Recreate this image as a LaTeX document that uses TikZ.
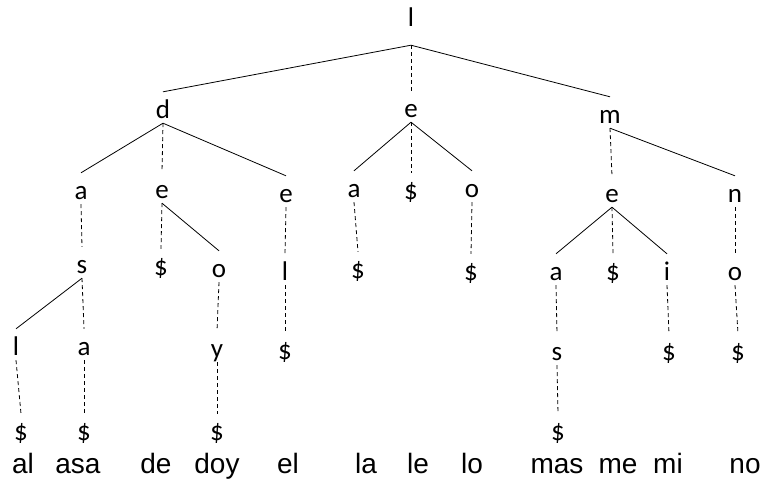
\documentclass[tikz,border=0pt]{standalone}
\usepackage{fontspec}
\setmainfont{Carlito}
\newfontfamily\wordfont{Liberation Sans}
\usepackage{tikz}
\usetikzlibrary{positioning}
\newcommand{\treefont}{\fontsize{27}{31}\selectfont}
\newcommand{\wfont}{\wordfont\fontsize{28}{32}\selectfont}
\tikzset{
  ch/.style={font=\treefont, anchor=base, text height=21pt, text depth=0pt,
    inner xsep=1pt, inner ysep=5pt},
  wd/.style={font=\wfont, anchor=base, inner sep=0pt},
  lohi/.style={line width=0.8pt},
  eq/.style={line width=0.8pt, dash pattern=on 4pt off 3pt}
}

\begin{document}
\begin{tikzpicture}[x=1pt,y=-1pt]
    \useasboundingbox (0,0) rectangle (760,479);

    % =====================
    % Root and first level
    % =====================
    \node[ch, text depth=14pt] (nl) at (411,26) {l};
    \node[ch] (nd)  at (163,118) {d};
    \node[ch] (nle) at (411,117) {e};
    \node[ch] (nm)  at (610,123) {m};

    % =====================
    % Second level
    % =====================
    \node[ch] (na)    at (81,199)  {a};
    \node[ch] (nde)   at (162,198) {e};
    \node[ch] (ne)    at (286,202) {e};
    \node[ch] (nla)   at (354,197) {a};
    \node[ch] (nleS)  at (411,199) {\$};
    \node[ch] (nlo)   at (472,197) {o};
    \node[ch] (nme)   at (612,202) {e};
    \node[ch] (nn)    at (735,202) {n};

    % =====================
    % Third level
    % =====================
    \node[ch] (nas)   at (82,273)  {s};
    \node[ch] (ndeS)  at (161,275) {\$};
    \node[ch] (ndo)   at (219,277) {o};
    \node[ch] (nel)   at (285,280) {l};
    \node[ch] (nlaS)  at (358,278) {\$};
    \node[ch] (nloS)  at (471,280) {\$};
    \node[ch] (nma)   at (556,280) {a};
    \node[ch] (nmeS)  at (613,280) {\$};
    \node[ch] (nmi)   at (667,280) {i};
    \node[ch] (nno)   at (735,280) {o};

    % =====================
    % Fourth level
    % =====================
    \node[ch] (nal)   at (16,355)  {l};
    \node[ch] (nasa)  at (84,355)  {a};
    \node[ch] (ndoy)  at (217,357) {y};
    \node[ch] (nelS)  at (285,359) {\$};
    \node[ch] (nmas)  at (557,360) {s};
    \node[ch] (nmiS)  at (669,360) {\$};
    \node[ch] (nnoS)  at (738,360) {\$};

    % =====================
    % Fifth level
    % =====================
    \node[ch] (nalS)  at (21,440)  {\$};
    \node[ch] (nasaS) at (84,440)  {\$};
    \node[ch] (ndoyS) at (217,440) {\$};
    \node[ch] (nmasS) at (558,440) {\$};

    % =====================
    % Words
    % =====================
    \node[wd] (wal)   at (23,473)  {al};
    \node[wd] (wasa)  at (78,473)  {asa};
    \node[wd] (wde)   at (156,473) {de};
    \node[wd] (wdoy)  at (217,473) {doy};
    \node[wd] (wel)   at (288,473) {el};
    \node[wd] (wla)   at (366,473) {la};
    \node[wd] (wle)   at (418,473) {le};
    \node[wd] (wlo)   at (472,473) {lo};
    \node[wd] (wmas)  at (557,473) {mas};
    \node[wd] (wme)   at (618,473) {me};
    \node[wd] (wmi)   at (668,473) {mi};
    \node[wd] (wno)   at (745,473) {no};

    % =====================
    % Low and high children
    % =====================
    \draw[lohi] (nl.south) -- (nd.north);
    \draw[lohi] (nl.south) -- (nm.north);
    \draw[lohi] (nd.south) -- (na.north);
    \draw[lohi] (nd.south) -- (ne.north);
    \draw[lohi] (nde.south) -- (ndo.north);
    \draw[lohi] (nle.south) -- (nla.north);
    \draw[lohi] (nle.south) -- (nlo.north);
    \draw[lohi] (nm.south) -- (nn.north);
    \draw[lohi] (nme.south) -- (nma.north);
    \draw[lohi] (nme.south) -- (nmi.north);
    \draw[lohi] (nas.south) -- (nal.north);

    % =====================
    % Equal children
    % =====================
    \draw[eq] (nl.south) -- (nle.north);
    \draw[eq] (nd.south) -- (nde.north);
    \draw[eq] (nm.south) -- (nme.north);
    \draw[eq] (na.south) -- (nas.north);
    \draw[eq] (nde.south) -- (ndeS.north);
    \draw[eq] (ne.south) -- (nel.north);
    \draw[eq] (nla.south) -- (nlaS.north);
    \draw[eq] (nle.south) -- (nleS.north);
    \draw[eq] (nlo.south) -- (nloS.north);
    \draw[eq] (nme.south) -- (nmeS.north);
    \draw[eq] (nn.south) -- (nno.north);
    \draw[eq] (nas.south) -- (nasa.north);
    \draw[eq] (ndo.south) -- (ndoy.north);
    \draw[eq] (nel.south) -- (nelS.north);
    \draw[eq] (nma.south) -- (nmas.north);
    \draw[eq] (nmi.south) -- (nmiS.north);
    \draw[eq] (nno.south) -- (nnoS.north);
    \draw[eq] (nal.south) -- (nalS.north);
    \draw[eq] (nasa.south) -- (nasaS.north);
    \draw[eq] (ndoy.south) -- (ndoyS.north);
    \draw[eq] (nmas.south) -- (nmasS.north);

\end{tikzpicture}
\end{document}
